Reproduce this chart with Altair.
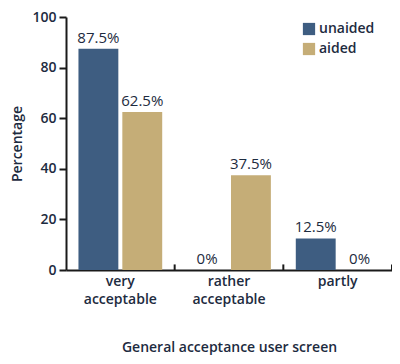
import altair as alt
import pandas as pd

categories = ["very\nacceptable", "rather\nacceptable", "partly"]
unaided = [87.5, 0.0, 12.5]
aided = [62.5, 37.5, 0.0]
series = ["unaided", "aided"]
colors = ["#3e5d81", "#c5ad77"]

rows = []
for i, c in enumerate(categories):
    rows.append({"cat": c, "series": "unaided", "value": unaided[i], "label": f"{unaided[i]:g}%"})
    rows.append({"cat": c, "series": "aided", "value": aided[i], "label": f"{aided[i]:g}%"})
df = pd.DataFrame(rows)

txt = "#1d2b40"
font = "Open Sans"

x = alt.X("cat:N", sort=categories, title="General acceptance user screen",
          scale=alt.Scale(paddingInner=0, paddingOuter=0),
          axis=alt.Axis(labelExpr="split(datum.label, '\\n')", labelAngle=0,
                        labelFontSize=14, labelFontWeight=600, labelColor=txt, labelFont=font,
                        labelPadding=4, labelLineHeight=18,
                        ticks=False, domainColor="#1a1a1a", domainWidth=2,
                        titleFontSize=14, titleFontWeight=600, titleColor=txt, titleFont=font,
                        titlePadding=34))
xoff = alt.XOffset("series:N", sort=series,
                   scale=alt.Scale(paddingInner=0.091, paddingOuter=0.284))
y = alt.Y("value:Q", scale=alt.Scale(domain=[0, 100]), title="Percentage",
          axis=alt.Axis(values=[0, 20, 40, 60, 80, 100], grid=False,
                        domainColor="#1a1a1a", domainWidth=2, tickColor="#1a1a1a",
                        tickWidth=2, tickSize=7, labelFontSize=14, labelFontWeight=600,
                        labelColor=txt, labelFont=font, labelPadding=3,
                        titleFontSize=14, titleFontWeight=600, titleColor=txt,
                        titleFont=font, titlePadding=7))

color = alt.Color("series:N", sort=series,
                  scale=alt.Scale(domain=series, range=colors),
                  legend=alt.Legend(title=None, orient="none", legendX=236, legendY=5,
                                    symbolType="square", symbolSize=150,
                                    symbolStrokeWidth=0, labelFontSize=14,
                                    labelFontWeight=600, labelColor=txt, labelFont=font,
                                    labelOffset=3, rowPadding=6))

base = alt.Chart(df)
bars = base.mark_bar().encode(x=x, xOffset=xoff, y=y, color=color)
labels = base.mark_text(dy=-11, fontSize=15, font=font, color=txt).encode(
    x=x, xOffset=xoff, y=y, text="label:N")

ticks_df = pd.DataFrame({"cat": categories, "y0": [0, 0, 0], "y1": [2.2, 2.2, 2.2]})
ticks = alt.Chart(ticks_df).mark_rule(color="#1a1a1a", strokeWidth=2).encode(
    x=alt.X("cat:N", sort=categories, bandPosition=1),
    y="y0:Q", y2="y1:Q")

chart = alt.layer(bars, labels, ticks).properties(
    width=326, height=253,
    autosize=alt.AutoSizeParams(type="none"),
    padding={"left": 58, "top": 9, "right": 0, "bottom": 86},
).configure_view(stroke=None)

chart.save("out.html", embed_options={"renderer": "svg", "actions": False})
